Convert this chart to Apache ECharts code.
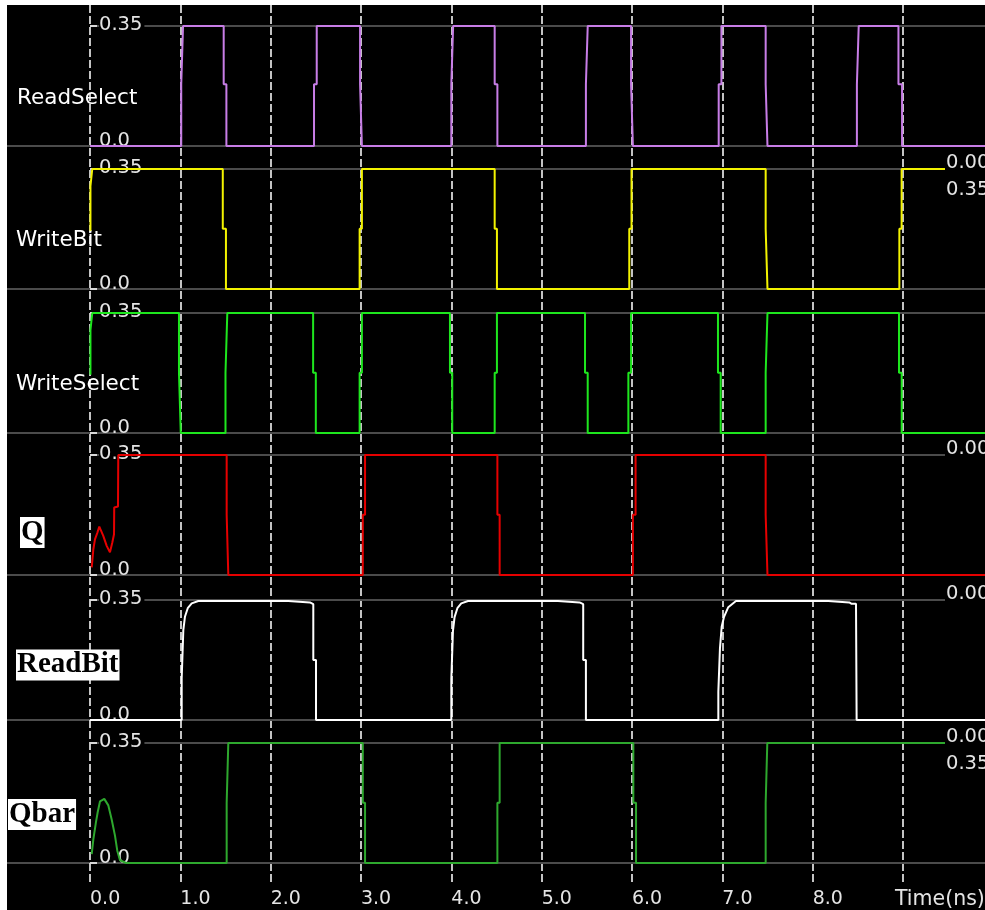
<!DOCTYPE html>
<html><head><meta charset="utf-8">
<script src="https://cdn.jsdelivr.net/npm/echarts@6/dist/echarts.min.js"></script>
<style>
html,body{margin:0;padding:0;background:#fff;width:985px;height:910px;overflow:hidden;}
#chart{position:absolute;left:7px;top:5px;width:978px;height:905px;background:#000;}
</style></head><body><div id="chart"></div>
<script>
// ---------------- data ----------------
const signalNames = ['ReadSelect', 'WriteBit', 'WriteSelect', 'Q', 'ReadBit', 'Qbar'];
const yTickLabels = ['0.0', '0.35'];
const vHigh = 0.35;
const timeTickLabels = ['0.0', '1.0', '2.0', '3.0', '4.0', '5.0', '6.0', '7.0', '8.0'];
const timeAxisName = 'Time(ns)';
const rightLabels = [[], ['0.00', '0.35'], [], ['0.00'], ['0.00'], ['0.00', '0.35']];

const readSelect = [
  [0, 0], [1.01, 0], [1.01, 0.18], [1.03, 0.18], [1.03, 0.35],
  [1.48, 0.35], [1.48, 0.18], [1.51, 0.18], [1.51, 0],
  [2.48, 0], [2.48, 0.18], [2.51, 0.18], [2.51, 0.35],
  [2.99, 0.35], [2.99, 0.18], [3.01, 0.18], [3.01, 0],
  [4.0, 0], [4.0, 0.18], [4.02, 0.18], [4.02, 0.35],
  [4.48, 0.35], [4.48, 0.18], [4.51, 0.18], [4.51, 0],
  [5.49, 0], [5.49, 0.18], [5.51, 0.18], [5.51, 0.35],
  [5.99, 0.35], [5.99, 0.18], [6.01, 0.18], [6.01, 0],
  [6.96, 0], [6.96, 0.18], [6.99, 0.18], [6.99, 0.35],
  [7.48, 0.35], [7.48, 0.18], [7.5, 0.18], [7.5, 0],
  [8.49, 0], [8.49, 0.18], [8.51, 0.18], [8.51, 0.35],
  [8.95, 0.35], [8.95, 0.18], [8.99, 0.18], [8.99, 0],
  [9.91, 0]
];
const writeBit = [
  [0.005, 0.17], [0.005, 0.3], [0.025, 0.3], [0.025, 0.35],
  [1.47, 0.35], [1.47, 0.176], [1.505, 0.176], [1.505, 0],
  [2.985, 0], [2.985, 0.176], [3.01, 0.176], [3.01, 0.35],
  [4.48, 0.35], [4.48, 0.176], [4.505, 0.176], [4.505, 0],
  [5.97, 0], [5.97, 0.176], [5.995, 0.176], [5.995, 0.35],
  [7.48, 0.35], [7.48, 0.176], [7.5, 0.176], [7.5, 0],
  [8.96, 0], [8.96, 0.176], [8.985, 0.176], [8.985, 0.35],
  [9.91, 0.35]
];
const writeSelect = [
  [0.005, 0.17], [0.005, 0.3], [0.025, 0.3], [0.025, 0.35],
  [0.985, 0.35], [0.985, 0.176], [1.005, 0.176], [1.005, 0],
  [1.5, 0], [1.5, 0.176], [1.52, 0.176], [1.52, 0.35],
  [2.47, 0.35], [2.47, 0.176], [2.5, 0.176], [2.5, 0],
  [2.985, 0], [2.985, 0.176], [3.01, 0.176], [3.01, 0.35],
  [3.985, 0.35], [3.985, 0.176], [4.01, 0.176], [4.01, 0],
  [4.48, 0], [4.48, 0.176], [4.505, 0.176], [4.505, 0.35],
  [5.48, 0.35], [5.48, 0.176], [5.51, 0.176], [5.51, 0],
  [5.96, 0], [5.96, 0.176], [5.99, 0.176], [5.99, 0.35],
  [6.952, 0.35], [6.952, 0.176], [6.982, 0.176], [6.982, 0],
  [7.48, 0], [7.48, 0.176], [7.5, 0.176], [7.5, 0.35],
  [8.956, 0.35], [8.956, 0.176], [8.986, 0.176], [8.986, 0],
  [9.91, 0]
];
const q = [
  [0.019, 0.022], [0.037, 0.075], [0.055, 0.104], [0.081, 0.123], [0.103, 0.141],
  [0.147, 0.114], [0.185, 0.085], [0.221, 0.066], [0.247, 0.095], [0.266, 0.119],
  [0.268, 0.197], [0.31, 0.2], [0.313, 0.35],
  [1.513, 0.35], [1.513, 0.176], [1.531, 0.176], [1.531, 0],
  [3.02, 0], [3.02, 0.176], [3.045, 0.176], [3.045, 0.35],
  [4.51, 0.35], [4.51, 0.176], [4.535, 0.176], [4.535, 0],
  [6.01, 0], [6.01, 0.176], [6.04, 0.176], [6.04, 0.35],
  [7.48, 0.35], [7.48, 0.176], [7.5, 0.176], [7.5, 0],
  [9.91, 0]
];
const readBit = [
  [0, 0], [1.015, 0], [1.015, 0.122], [1.03, 0.122], [1.033, 0.262], [1.051, 0.301],
  [1.082, 0.326], [1.126, 0.34], [1.199, 0.347], [2.195, 0.347], [2.213, 0.343],
  [2.435, 0.343], [2.472, 0.338], [2.472, 0.175], [2.502, 0.175], [2.502, 0],
  [4.0, 0], [4.0, 0.12], [4.015, 0.12], [4.018, 0.26], [4.036, 0.3], [4.067, 0.326],
  [4.11, 0.34], [4.185, 0.347], [5.18, 0.347], [5.2, 0.343], [5.42, 0.343],
  [5.46, 0.338], [5.46, 0.175], [5.49, 0.175], [5.49, 0],
  [6.956, 0], [6.956, 0.083], [6.974, 0.083], [6.974, 0.209], [6.993, 0.272],
  [7.019, 0.301], [7.066, 0.329], [7.151, 0.347], [8.173, 0.347], [8.192, 0.343],
  [8.406, 0.343], [8.432, 0.339], [8.48, 0.339], [8.487, 0],
  [9.91, 0]
];
const qbar = [
  [0.019, 0.026], [0.037, 0.069], [0.066, 0.119], [0.085, 0.148], [0.111, 0.18],
  [0.158, 0.187], [0.203, 0.168], [0.24, 0.127], [0.277, 0.079], [0.302, 0.036],
  [0.332, 0.008], [0.4, 0],
  [1.513, 0], [1.513, 0.176], [1.531, 0.176], [1.531, 0.35],
  [3.02, 0.35], [3.02, 0.176], [3.045, 0.176], [3.045, 0],
  [4.51, 0], [4.51, 0.176], [4.535, 0.176], [4.535, 0.35],
  [6.015, 0.35], [6.015, 0.176], [6.045, 0.176], [6.045, 0],
  [7.48, 0], [7.48, 0.176], [7.498, 0.176], [7.498, 0.35],
  [9.91, 0.35]
];
const signalData = [readSelect, writeBit, writeSelect, q, readBit, qbar];

// ---------------- styles / layout ----------------
const signalColors = ['#c77de6', '#f2f200', '#1ee61e', '#e60000', '#ffffff', '#2ea82e'];
const boxedLabel = [false, false, false, true, true, true];
const CHART_W = 978;
const PLOT_LEFT = 83;
const NS_PX = 90.33;
const X_MAX = (CHART_W - PLOT_LEFT) / NS_PX;
const ROW_TOP = [21, 164, 308, 450, 595, 738];
const ROW_H = 120;
const NAME_GAP = [73, 74, 74, 70, 74, 82];
const NAME_SHIFT = [25, 22, 23, 35, 10, 23];
const SANS = '"DejaVu Sans", sans-serif';
const SERIF = '"Liberation Serif", "DejaVu Serif", serif';
const GRAY = '#4b4b4b';
const TXT = '#e4e4e4';

const grids = [], xAxes = [], yAxes = [], series = [], graphics = [];
signalNames.forEach((name, i) => {
  grids.push({ left: PLOT_LEFT, right: 0, top: ROW_TOP[i], height: ROW_H, containLabel: false, outerBoundsMode: 'none' });
  xAxes.push({ gridIndex: i, type: 'value', min: 0, max: X_MAX, show: false });
  const boxed = boxedLabel[i];
  yAxes.push({
    gridIndex: i, type: 'value', min: 0, max: vHigh, interval: vHigh, position: 'left', z: 2,
    axisLine: { show: false },
    axisTick: { show: true, inside: true, length: 7, lineStyle: { color: '#d8d8d8', width: 2 } },
    axisLabel: {
      show: true, inside: true, margin: 9,
      formatter: (v) => v === 0 ? '{b|' + yTickLabels[0] + '}' : '{t|' + yTickLabels[1] + '}',
      rich: {
        b: { color: TXT, fontFamily: SANS, fontSize: 19.5, padding: [0, 0, 10, 0] },
        t: { color: TXT, fontFamily: SANS, fontSize: 19.5, padding: [0, 2, 3, 0], backgroundColor: '#000' }
      }
    },
    splitLine: { show: true, lineStyle: { color: GRAY, width: 2 } },
    name: boxed ? '{box|' + name + '}' : name,
    nameLocation: 'middle', nameRotate: 0, nameGap: NAME_GAP[i], nameMoveOverlap: false,
    nameTruncate: { maxWidth: null },
    nameTextStyle: {
      align: 'left', verticalAlign: 'middle', color: '#fff', fontFamily: SANS, fontSize: 21.5,
      padding: [NAME_SHIFT[i], 0, 0, 0],
      rich: {
        box: { color: '#000', backgroundColor: '#fff', fontFamily: SERIF, fontWeight: 'bold', fontSize: 29,
               lineHeight: name === 'ReadBit' ? 24 : 30, padding: [1, 1, 1, 1] }
      }
    }
  });
  series.push({
    type: 'line', xAxisIndex: i, yAxisIndex: i, data: signalData[i], showSymbol: false, symbol: 'none',
    lineStyle: { color: signalColors[i], width: 2 }, z: 3, animation: false
  });
  // bottom baseline extends to the left edge
  graphics.push({ type: 'line', z: 0, shape: { x1: 0, y1: ROW_TOP[i] + ROW_H, x2: PLOT_LEFT, y2: ROW_TOP[i] + ROW_H },
    style: { stroke: GRAY, lineWidth: 2 } });
  rightLabels[i].forEach((txt, k) => {
    graphics.push({ type: 'text', z: 50, x: 938, y: k === 0 ? ROW_TOP[i] - 19 : ROW_TOP[i] + 8,
      style: { text: txt, fill: TXT, font: '19.5px ' + SANS, backgroundColor: '#000', padding: [3, 12, 4, 1], verticalAlign: 'top' } });
  });
});

// time axis grid with dashed vertical lines
grids.push({ left: PLOT_LEFT, top: 0, width: NS_PX * 9, height: 880, containLabel: false, outerBoundsMode: 'none' });
xAxes.push({
  gridIndex: 6, type: 'value', min: 0, max: 9, interval: 1, position: 'bottom', z: 1,
  axisLine: { show: false }, axisTick: { show: false },
  axisLabel: { show: true, margin: 5, align: 'left', color: TXT, fontFamily: SANS, fontSize: 19,
    formatter: (v) => (timeTickLabels[Math.round(v)] !== undefined ? timeTickLabels[Math.round(v)] : '') },
  splitLine: { show: true, lineStyle: { color: '#f4f4f4', width: 1.6, type: [8, 3] } },
  name: timeAxisName, nameLocation: 'end', nameGap: -8, nameMoveOverlap: false,
  nameTextStyle: { align: 'left', verticalAlign: 'top', color: TXT, fontFamily: SANS, fontSize: 20.5, padding: [4, 0, 0, 0] }
});
yAxes.push({ gridIndex: 6, type: 'value', show: false, min: 0, max: 1 });

const chart = echarts.init(document.getElementById('chart'), null, { renderer: 'canvas' });
chart.setOption({
  backgroundColor: '#000',
  animation: false,
  grid: grids, xAxis: xAxes, yAxis: yAxes, series: series, graphic: graphics
});
</script></body></html>
